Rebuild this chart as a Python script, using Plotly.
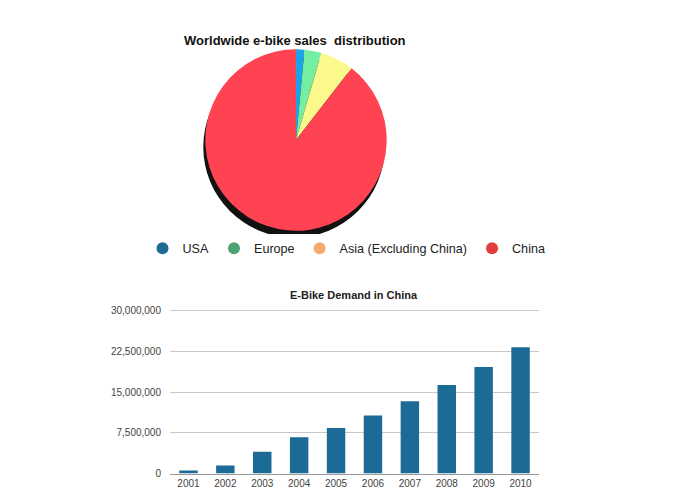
import plotly.graph_objects as go

W, H = 693, 500

# Pie data (share of worldwide e-bike sales, %)
regions = ["USA", "Europe", "Asia (Excluding China)", "China"]
shares = [1.5, 3, 6, 89.5]
slice_colors = ["#1aa3e8", "#74eea0", "#fbf88c", "#ff4352"]
legend_colors = ["#1f6a95", "#4ea374", "#f7aa6e", "#e23c3f"]

# Bar data
years = ["2001", "2002", "2003", "2004", "2005", "2006", "2007", "2008", "2009", "2010"]
demand = [560000, 1500000, 4000000, 6700000, 8400000, 10700000, 13300000, 16300000, 19600000, 23250000]
ytick_vals = [0, 7500000, 15000000, 22500000, 30000000]

FONT = "Liberation Sans, Arial, Helvetica, sans-serif"

def px_x(p):
    return p / W

def px_y(p):
    return 1 - p / H

fig = go.Figure()

# shadow of the pie (decorative)
cx, cy, r = 296, 140, 92
fig.add_trace(go.Pie(
    values=[sum(shares)], labels=["shadow"], marker=dict(colors=["#111111"]),
    textinfo="none", hoverinfo="skip", showlegend=False, sort=False,
    domain=dict(x=[px_x(cx - r - 2), px_x(cx + r - 2)], y=[px_y(cy + r + 7), px_y(cy - r + 7)]),
))
fig.add_trace(go.Pie(
    values=shares, labels=regions, marker=dict(colors=slice_colors, line=dict(width=0)),
    textinfo="none", showlegend=False, sort=False, direction="clockwise", rotation=0,
    domain=dict(x=[px_x(cx - r), px_x(cx + r)], y=[px_y(cy + r), px_y(cy - r)]),
))

# legend entries
for name, col in zip(regions, legend_colors):
    fig.add_trace(go.Scatter(
        x=[None], y=[None], mode="markers", name=name,
        marker=dict(color=col, size=13, symbol="circle"),
        xaxis="x2", yaxis="y2", showlegend=True,
    ))

fig.add_trace(go.Bar(
    x=years, y=demand, marker=dict(color="#1b6b96", line=dict(width=0)),
    showlegend=False,
))

fig.update_layout(
    width=W, height=H,
    margin=dict(l=0, r=0, t=0, b=0),
    paper_bgcolor="white", plot_bgcolor="white",
    font=dict(family=FONT, color="#333"),
    bargap=0.5,
    xaxis=dict(domain=[px_x(170), px_x(539)], showgrid=False, showline=True,
               linecolor="#999", linewidth=1, ticks="",
               tickfont=dict(size=10, color="#444"), fixedrange=True),
    yaxis=dict(domain=[px_y(478.3), px_y(309.6)], range=[0, 30600000],
               tickvals=ytick_vals, tickformat=",d", showgrid=True,
               gridcolor="#c8c8c8", gridwidth=1, zeroline=False, showline=False,
               ticks="", ticklabelstandoff=8,
               tickfont=dict(size=10, color="#444")),
    xaxis2=dict(visible=False, domain=[0, 0.01], anchor="y2"),
    yaxis2=dict(visible=False, domain=[0.99, 1], anchor="x2"),
    legend=dict(orientation="h", x=0.5, xanchor="center", y=px_y(250), yanchor="middle",
                font=dict(size=12.6, color="#222", family=FONT), itemsizing="constant"),
    annotations=[
        dict(text="<b>Worldwide e-bike sales  distribution</b>", x=px_x(295), y=px_y(39),
             xref="paper", yref="paper", yanchor="middle", showarrow=False,
             font=dict(size=13, color="#111")),
        dict(text="<b>E-Bike Demand in China</b>", x=px_x(354), y=px_y(297),
             xref="paper", yref="paper", yanchor="middle", showarrow=False,
             font=dict(size=11, color="#222")),
    ],
)

fig.write_html("out.html")
